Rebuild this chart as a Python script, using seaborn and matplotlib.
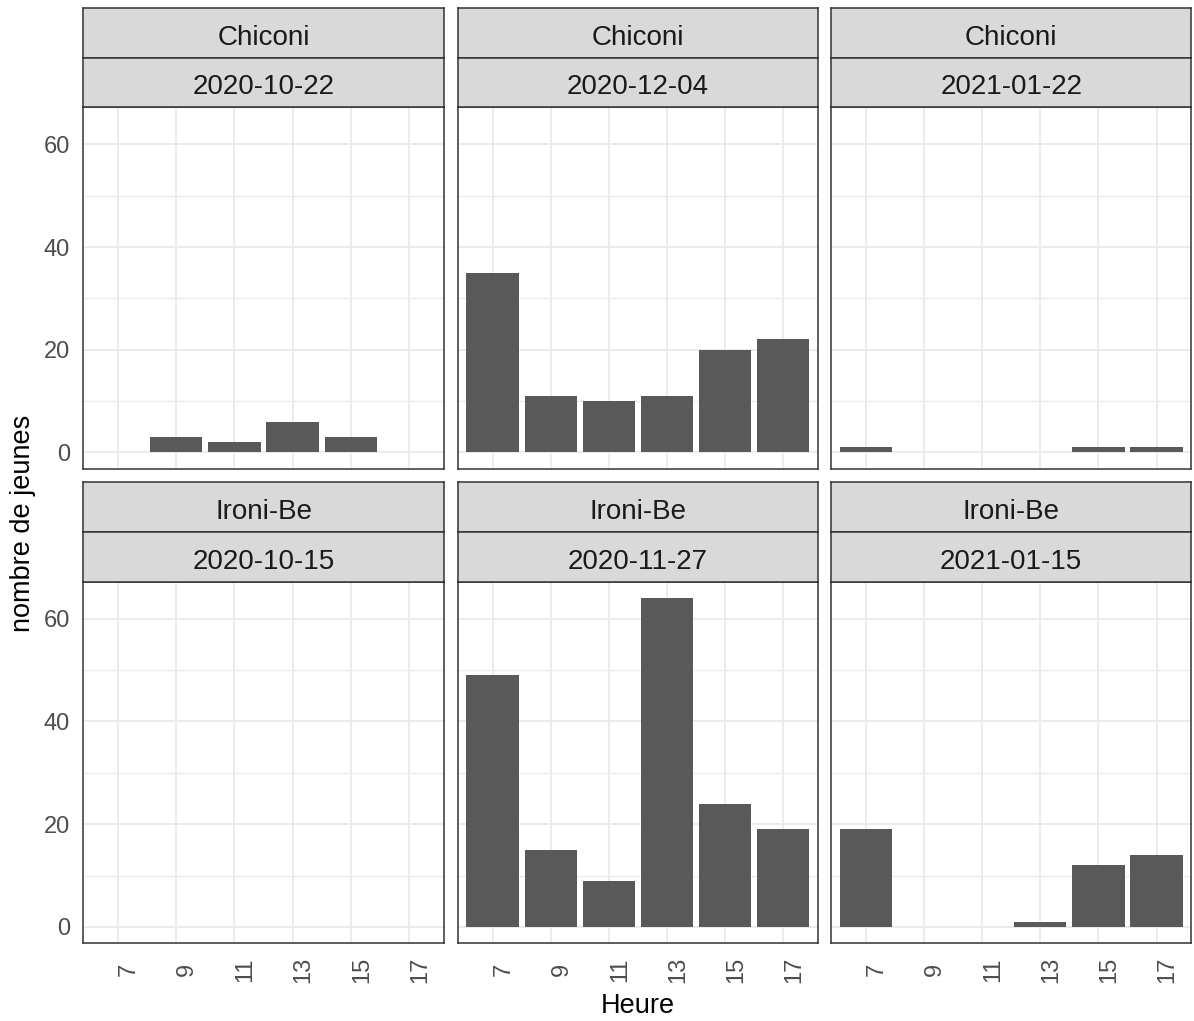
import matplotlib
matplotlib.use("Agg")
import matplotlib.pyplot as plt
import numpy as np
import pandas as pd
import seaborn as sns

# ---------------- data ----------------
heures = [7, 9, 11, 13, 15, 17]
sites = ["Chiconi", "Chiconi", "Chiconi", "Ironi-Be", "Ironi-Be", "Ironi-Be"]
dates = ["2020-10-22", "2020-12-04", "2021-01-22", "2020-10-15", "2020-11-27", "2021-01-15"]
# counts per hour for each facet (None = no observation)
chiconi_2020_10_22 = [None, 3, 2, 6, 3, None]
chiconi_2020_12_04 = [35, 11, 10, 11, 20, 22]
chiconi_2021_01_22 = [1, None, None, None, 1, 1]
ironi_2020_10_15 = [None, None, None, None, None, None]
ironi_2020_11_27 = [49, 15, 9, 64, 24, 19]
ironi_2021_01_15 = [19, None, None, 1, 12, 14]
facet_values = [chiconi_2020_10_22, chiconi_2020_12_04, chiconi_2021_01_22,
                ironi_2020_10_15, ironi_2020_11_27, ironi_2021_01_15]

rows = []
for i, vals in enumerate(facet_values):
    for h, v in zip(heures, vals):
        if v is not None:
            rows.append({"facet": i, "site": sites[i], "date": dates[i],
                         "Heure": str(h), "n": v})
df = pd.DataFrame(rows)

# ---------------- style ----------------
sns.set_theme(style="white")
plt.rcParams["font.family"] = ["Liberation Sans", "DejaVu Sans"]

W, H = 1194, 1021
fig = plt.figure(figsize=(W / 100, H / 100), dpi=100)

col_left = [83.3, 457.7, 831.0]
pw = 360.5
row_top = [107.3, 581.7]   # panel tops
ph = 361.6
sh = 49.7                   # height of one strip

border = "#333333"
order = [str(h) for h in heures]
tick_fs = 17
strip_fs = 20
title_fs = 19.5

def fx(x):
    return x / W

def fy(y):
    return 1 - y / H

for i in range(6):
    r, c = divmod(i, 3)
    x0 = col_left[c]
    top = row_top[r]
    ax = fig.add_axes([fx(x0), fy(top + ph), pw / W, ph / H])
    sub = df[df["facet"] == i]
    if len(sub):
        sns.barplot(data=sub, x="Heure", y="n", order=order, color="#595959",
                    saturation=1, width=0.9, errorbar=None, linewidth=0, ax=ax)
    ax.set_xticks(range(len(heures)))
    ax.set_xlim(-0.6, len(heures) - 0.4)
    ax.set_ylim(-3.2, 67.2)
    ax.set_yticks([0, 20, 40, 60])
    ax.set_yticks([10, 30, 50], minor=True)
    ax.set_axisbelow(True)
    ax.grid(which="major", color="#EBEBEB", linewidth=1.4)
    ax.grid(which="minor", axis="y", color="#EBEBEB", linewidth=1.0)
    ax.set_xlabel("")
    ax.set_ylabel("")
    for sp in ax.spines.values():
        sp.set_color(border)
        sp.set_linewidth(1.1)
    ax.tick_params(which="minor", length=0)
    ax.tick_params(which="major", color=border, width=1.0, length=5.4,
                   labelcolor="#4D4D4D", labelsize=tick_fs)
    if r == 1:
        ax.set_xticklabels(order)
        plt.setp(ax.get_xticklabels(), rotation=90, ha="left", va="center")
        ax.tick_params(axis="x", pad=13.6)
    else:
        ax.tick_params(axis="x", bottom=False, labelbottom=False)
    if c == 0:
        ax.set_yticklabels(["0", "20", "40", "60"])
        ax.tick_params(axis="y", pad=4.3)
    else:
        ax.tick_params(axis="y", left=False, labelleft=False)

    # strips (site on top, date below)
    for k, label in enumerate([sites[i], dates[i]]):
        s_top = top - 2 * sh + k * sh
        sax = fig.add_axes([fx(x0), fy(s_top + sh), pw / W, sh / H])
        sax.set_facecolor("#D9D9D9")
        sax.set_xticks([])
        sax.set_yticks([])
        for sp in sax.spines.values():
            sp.set_color(border)
            sp.set_linewidth(1.1)
        sax.text(0.5, 0.5 - 11.8 / sh, label, ha="center", va="baseline",
                 fontsize=strip_fs, color="#1A1A1A", transform=sax.transAxes)

fig.text(fx(23), fy(523), "nombre de jeunes", rotation=90, ha="center",
         va="center", fontsize=title_fs, color="black")
fig.text(fx(637.5), fy(1013), "Heure", ha="center", va="baseline",
         fontsize=title_fs, color="black")

fig.savefig("out.png", dpi=100, facecolor="white")
